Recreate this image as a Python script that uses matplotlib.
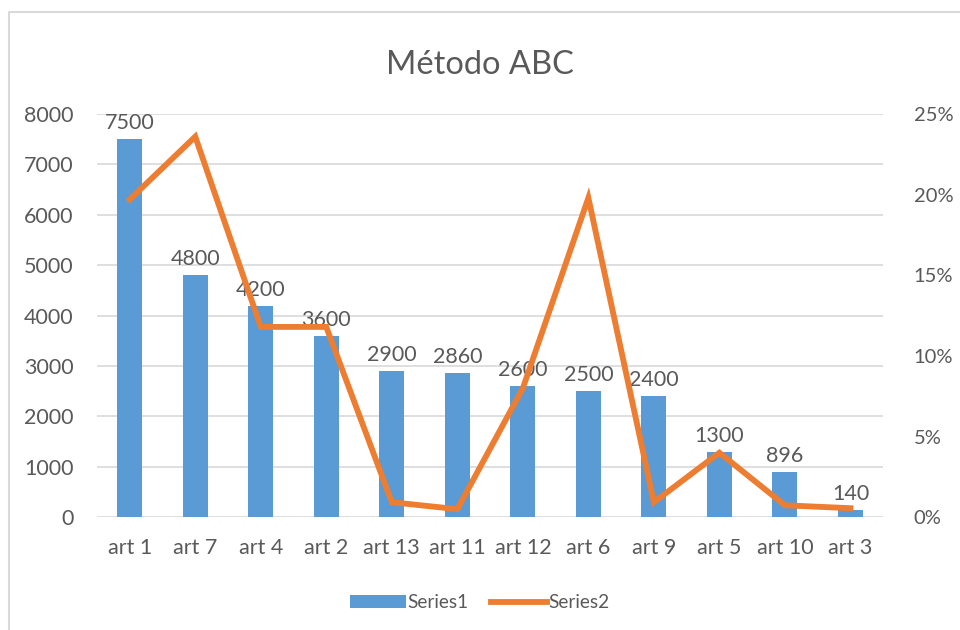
import numpy as np
import matplotlib.pyplot as plt
from matplotlib.lines import Line2D
from matplotlib.ticker import FuncFormatter

plt.rcParams['font.family'] = ['Lato', 'DejaVu Sans']

# datos
articulos = ['art 1', 'art 7', 'art 4', 'art 2', 'art 13', 'art 11', 'art 12',
             'art 6', 'art 9', 'art 5', 'art 10', 'art 3']
series1 = [7500, 4800, 4200, 3600, 2900, 2860, 2600, 2500, 2400, 1300, 896, 140]
series2 = [0.197, 0.236, 0.118, 0.118, 0.0093, 0.005, 0.080, 0.198, 0.0093, 0.040, 0.0074, 0.0056]

texto = '#595959'
azul = '#5B9BD5'
naranja = '#ED7D31'

fig = plt.figure(figsize=(9.6, 6.3), dpi=100)
ax = fig.add_axes([0.101, 0.179, 0.819, 0.640])
x = np.arange(len(articulos))

ax.bar(x, series1, width=0.38, color=azul, label='Series1', zorder=2)
for xi, v in zip(x, series1):
    ax.text(xi, v + 120, str(v), ha='center', va='bottom', fontsize=15.5, color=texto)

ax.set_ylim(0, 8000)
ax.set_yticks(range(0, 8001, 1000))
ax.set_xlim(-0.5, len(articulos) - 0.5)
ax.set_xticks(x)
ax.set_xticklabels(articulos)
ax.grid(axis='y', color='#D9D9D9', linewidth=1.2, zorder=0)
ax.tick_params(length=0, labelsize=15.5, labelcolor=texto)
ax.tick_params(axis='x', pad=15)
ax.tick_params(axis='y', pad=17)
for s in ax.spines.values():
    s.set_visible(False)

ax2 = ax.twinx()
ax2.plot(x, series2, color=naranja, linewidth=4.2, label='Series2', zorder=3,
         solid_joinstyle='miter')
ax2.set_ylim(0, 0.25)
ax2.set_yticks(np.arange(0, 0.251, 0.05))
ax2.yaxis.set_major_formatter(FuncFormatter(lambda v, p: '%d%%' % round(v * 100)))
ax2.tick_params(length=0, labelsize=14.5, labelcolor=texto, pad=22)
for s in ax2.spines.values():
    s.set_visible(False)

fig.text(0.5, 0.897, 'Método ABC', ha='center', va='center', fontsize=23.5, color=texto)

h1, l1 = ax.get_legend_handles_labels()
h2, l2 = ax2.get_legend_handles_labels()
fig.legend(h1 + h2, l1 + l2, loc='center', bbox_to_anchor=(0.5, 0.043), ncol=2,
           frameon=False, fontsize=13.7, labelcolor=texto, handlelength=2.9,
           columnspacing=1.2, handletextpad=0.1)

# borde del grafico (solo arriba e izquierda visibles)
fig.lines.append(Line2D([0.009, 0.009, 1.0], [0.0, 0.981, 0.981], transform=fig.transFigure,
                        color='#D9D9D9', linewidth=1.5))

fig.savefig('out.png', dpi=100)
